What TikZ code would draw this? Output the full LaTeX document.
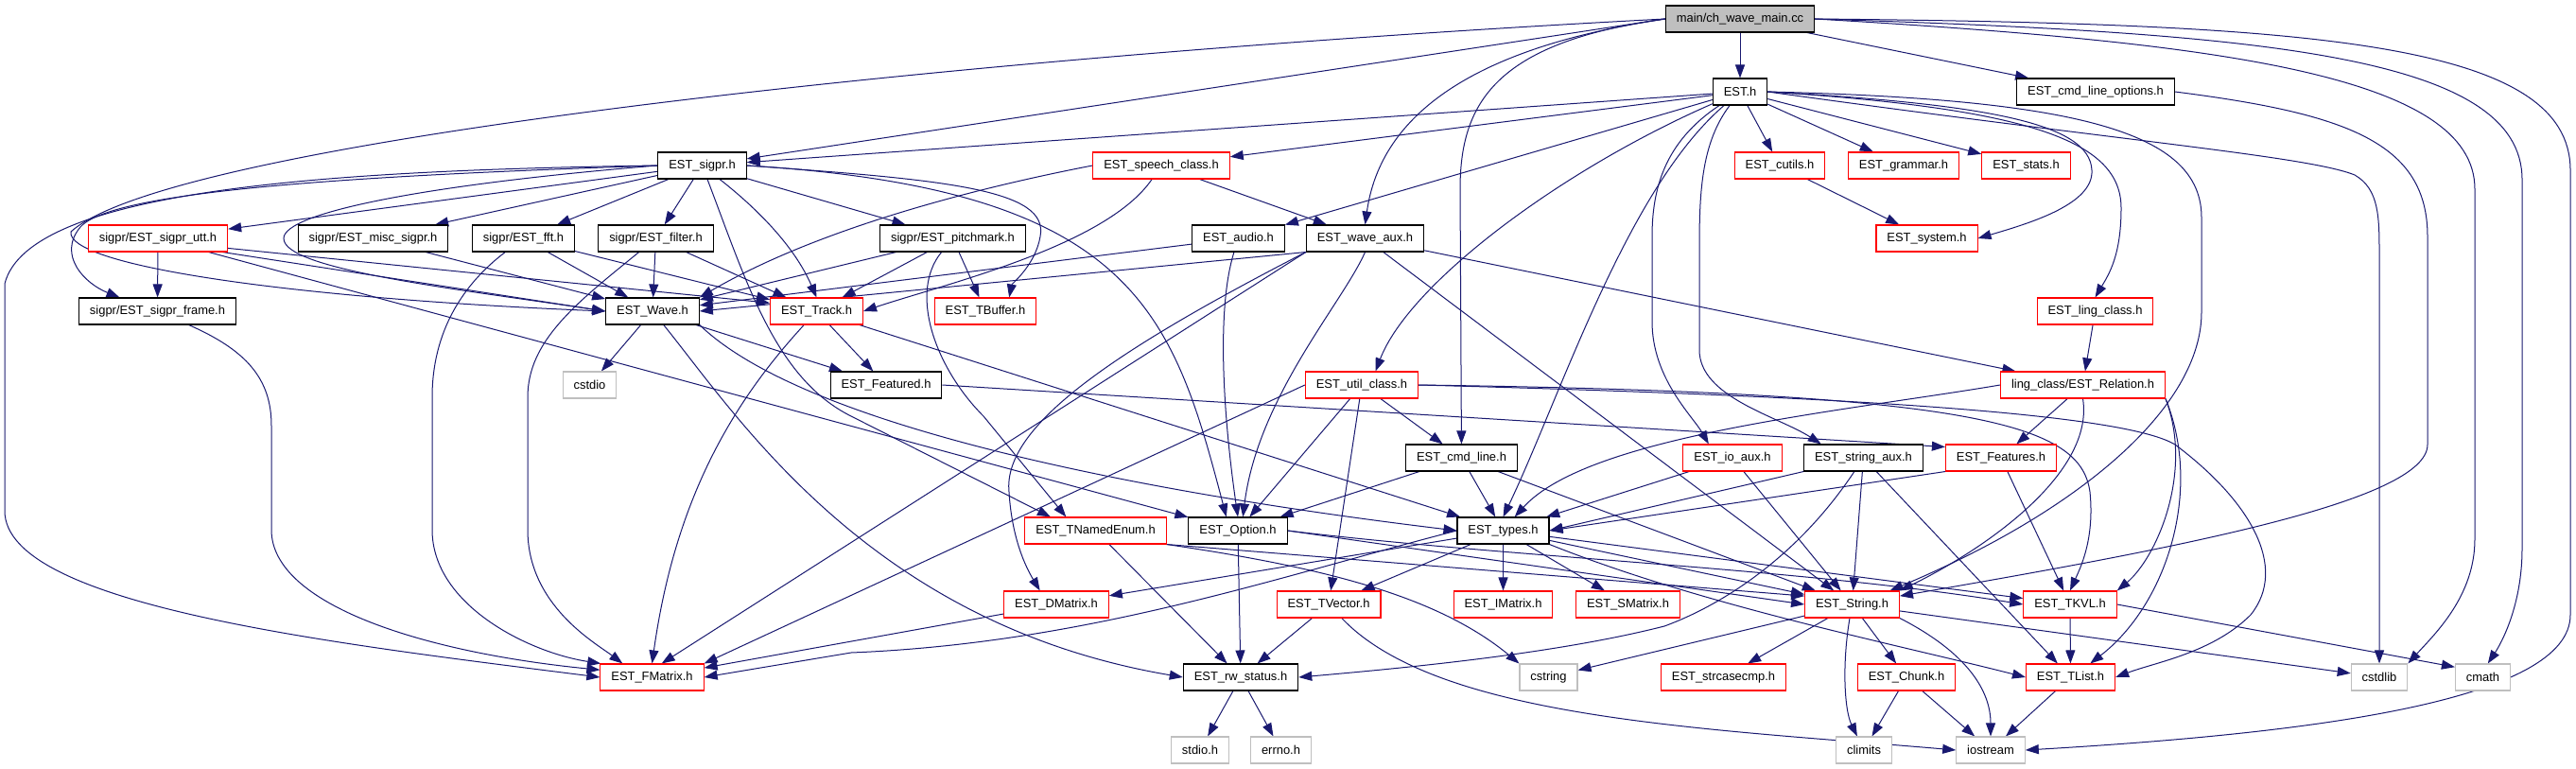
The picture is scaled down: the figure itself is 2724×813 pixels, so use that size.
\documentclass[tikz,border=0pt]{standalone}
\usepackage{fontspec}
\setmainfont{Liberation Sans}
\usetikzlibrary{arrows.meta}
\definecolor{depblue}{HTML}{191970}
\definecolor{hdrred}{HTML}{FF0000}
\definecolor{sysgray}{HTML}{BFBFBF}
\definecolor{rootfill}{HTML}{BFBFBF}
\pgfdeclarelayer{bg}
\pgfsetlayers{bg,main}

\begin{document}
\begin{tikzpicture}[
  x=0.75pt, y=-0.75pt,
  hdr/.style={draw=black, fill=white, line width=0.8pt, inner xsep=8.6pt,
              inner ysep=0pt, minimum height=21pt,
              font=\fontsize{9.7pt}{11pt}\selectfont},
  redhdr/.style={hdr, draw=hdrred},
  syshdr/.style={hdr, draw=sysgray},
  roothdr/.style={hdr, fill=rootfill},
  dep/.style={-{Triangle[length=10.5pt,width=7.5pt]}, draw=depblue, line width=0.75pt},
]
\useasboundingbox (0,0) rectangle (2724,813);

% --- rows 0-2 ---
\node[roothdr] (root)    at (1840,20)    {main/ch\_wave\_main.cc};
\node[hdr]     (est)     at (1840,97)    {EST.h};
\node[hdr]     (cmdopts) at (2216,97)    {EST\_cmd\_line\_options.h};
\node[hdr]     (sigpr)   at (742.5,175)  {EST\_sigpr.h};
\node[redhdr]  (speech)  at (1228,175)   {EST\_speech\_class.h};
\node[redhdr]  (cutils)  at (1882,175)   {EST\_cutils.h};
\node[redhdr]  (grammar) at (2013,175)   {EST\_grammar.h};
\node[redhdr]  (stats)   at (2142.5,175) {EST\_stats.h};
% --- row 3 ---
\node[redhdr]  (utt)     at (167,252)    {sigpr/EST\_sigpr\_utt.h};
\node[hdr]     (misc)    at (394.5,252)  {sigpr/EST\_misc\_sigpr.h};
\node[hdr]     (fft)     at (553.5,252)  {sigpr/EST\_fft.h};
\node[hdr]     (filter)  at (693.5,252)  {sigpr/EST\_filter.h};
\node[hdr]     (pitch)   at (1007.5,252) {sigpr/EST\_pitchmark.h};
\node[hdr]     (audio)   at (1309.5,252) {EST\_audio.h};
\node[hdr]     (waveaux) at (1443.5,252) {EST\_wave\_aux.h};
\node[redhdr]  (system)  at (2037.5,252) {EST\_system.h};
% --- row 4 ---
\node[hdr]     (frame)   at (166.5,329)  {sigpr/EST\_sigpr\_frame.h};
\node[hdr]     (wave)    at (690,329)    {EST\_Wave.h};
\node[redhdr]  (track)   at (863.5,329)  {EST\_Track.h};
\node[redhdr]  (tbuffer) at (1042,329)   {EST\_TBuffer.h};
\node[redhdr]  (lingcls) at (2215.5,329) {EST\_ling\_class.h};
% --- row 5 ---
\node[syshdr]  (cstdio)   at (623.5,407)  {cstdio};
\node[hdr]     (featured) at (937,407)    {EST\_Featured.h};
\node[redhdr]  (utilcls)  at (1440,407)   {EST\_util\_class.h};
\node[redhdr]  (relation) at (2202.5,407) {ling\_class/EST\_Relation.h};
% --- row 6 ---
\node[hdr]     (cmdline)  at (1545.5,484) {EST\_cmd\_line.h};
\node[redhdr]  (ioaux)    at (1832,484)   {EST\_io\_aux.h};
\node[hdr]     (straux)   at (1970.5,484) {EST\_string\_aux.h};
\node[redhdr]  (features) at (2116,484)   {EST\_Features.h};
% --- row 7 ---
\node[redhdr]  (tnamed)   at (1158.5,561) {EST\_TNamedEnum.h};
\node[hdr]     (option)   at (1309,561)   {EST\_Option.h};
\node[hdr]     (types)    at (1589.5,561) {EST\_types.h};
% --- row 8 ---
\node[redhdr]  (dmatrix)  at (1117,639)   {EST\_DMatrix.h};
\node[redhdr]  (tvector)  at (1405,639)   {EST\_TVector.h};
\node[redhdr]  (imatrix)  at (1589.5,639) {EST\_IMatrix.h};
\node[redhdr]  (smatrix)  at (1721.5,639) {EST\_SMatrix.h};
\node[redhdr]  (string)   at (1958.5,639) {EST\_String.h};
\node[redhdr]  (tkvl)     at (2189,639)   {EST\_TKVL.h};
% --- row 9 ---
\node[redhdr]  (fmatrix)  at (689.5,716)  {EST\_FMatrix.h};
\node[hdr]     (rwstatus) at (1312,716)   {EST\_rw\_status.h};
\node[syshdr]  (cstring)  at (1637.5,716) {cstring};
\node[redhdr]  (strcase)  at (1822.5,716) {EST\_strcasecmp.h};
\node[redhdr]  (chunk)    at (2016,716)   {EST\_Chunk.h};
\node[redhdr]  (tlist)    at (2189.5,716) {EST\_TList.h};
\node[syshdr]  (cstdlib)  at (2516,716)   {cstdlib};
\node[syshdr]  (cmath)    at (2625.5,716) {cmath};
% --- row 10 ---
\node[syshdr]  (stdioh)   at (1269,793)   {stdio.h};
\node[syshdr]  (errnoh)   at (1354.5,793) {errno.h};
\node[syshdr]  (climits)  at (1971,793)   {climits};
\node[syshdr]  (iostream) at (2105,793)   {iostream};

\begin{pgfonlayer}{bg}
\fill[white] (0,0) rectangle (2724,813);

% --- main/ch_wave_main.cc ---
\draw[dep] (root) -- (est);
\draw[dep] (root) -- (cmdopts);
\draw[dep] (root.west) -- (sigpr);
\draw[dep] (root.west) .. controls (1000,60) and (180,150) .. (75,245)
                       .. controls (70,280) and (300,315) .. (wave.west);
\draw[dep] (root.west) .. controls (1560,50) and (1460,120) .. (waveaux.north);
\draw[dep] (root.west) .. controls (1580,45) and (1544,110) .. (1544,200) -- (cmdline);
\draw[dep] (root.east) .. controls (2350,45) and (2617,80) .. (2617,200) -- (2617,570)
                       .. controls (2617,630) and (2575,670) .. (cstdlib.north east);
\draw[dep] (root.east) .. controls (2400,35) and (2667,60) .. (2667,190) -- (2667,580)
                       .. controls (2667,640) and (2645,680) .. (cmath.70);
\draw[dep] (root.east) .. controls (2450,25) and (2718,45) .. (2718,180) -- (2718,650)
                       .. controls (2718,740) and (2450,775) .. (iostream.east);

% --- EST.h ---
\draw[dep] (est) -- (sigpr);
\draw[dep] (est) -- (speech);
\draw[dep] (est) -- (audio);
\draw[dep] (est) .. controls (1650,180) and (1490,300) .. (utilcls.45);
\draw[dep] (est) .. controls (1720,200) and (1650,420) .. (types.north);
\draw[dep] (est) .. controls (1760,150) and (1747,200) .. (1747,250) -- (1747,340)
                 .. controls (1747,400) and (1790,440) .. (ioaux.150);
\draw[dep] (est) .. controls (1800,150) and (1797,200) .. (1797,260) -- (1797,370)
                 .. controls (1797,420) and (1880,440) .. (straux.162);
\draw[dep] (est) -- (cutils);
\draw[dep] (est) -- (grammar);
\draw[dep] (est) -- (stats);
\draw[dep] (est.east) .. controls (2100,110) and (2210,130) .. (2212,180)
                      .. controls (2214,215) and (2150,235) .. (system.east);
\draw[dep] (est.east) .. controls (2150,115) and (2243,150) .. (2243,220)
                      .. controls (2243,270) and (2230,290) .. (lingcls.north);
\draw[dep] (est.east) .. controls (2200,105) and (2328,140) .. (2328,230) -- (2328,330)
                      .. controls (2328,430) and (2200,540) .. (string.20);
\draw[dep] (est.east) .. controls (2250,150) and (2440,165) .. (2490,185)
                      .. controls (2516,200) and (2516,230) .. (2516,270) -- (cstdlib);

% --- EST_cmd_line_options.h ---
\draw[dep] (cmdopts.east) .. controls (2480,120) and (2567,150) .. (2567,250) -- (2567,470)
                          .. controls (2567,530) and (2300,580) .. (string.10);

% --- EST_sigpr.h ---
\draw[dep] (sigpr) -- (utt);
\draw[dep] (sigpr) -- (misc);
\draw[dep] (sigpr) -- (fft);
\draw[dep] (sigpr) -- (filter);
\draw[dep] (sigpr) -- (pitch);
\draw[dep] (sigpr.west) .. controls (400,185) and (120,200) .. (85,240)
                        .. controls (60,270) and (90,300) .. (frame.160);
\draw[dep] (sigpr.west) .. controls (350,180) and (30,200) .. (5,300) -- (5,540)
                        .. controls (5,640) and (350,680) .. (fmatrix.180);
\draw[dep] (sigpr.west) .. controls (450,195) and (300,225) .. (300,252)
                        .. controls (300,285) and (480,305) .. (wave.west);
\draw[dep] (sigpr) .. controls (800,220) and (840,260) .. (track.north);
\draw[dep] (sigpr) .. controls (790,300) and (820,400) .. (900,440) -- (tnamed.163);
\draw[dep] (sigpr.east) .. controls (1000,190) and (1110,200) .. (1100,250)
                        .. controls (1095,280) and (1070,300) .. (tbuffer.30);
\draw[dep] (sigpr.east) .. controls (1200,200) and (1240,330) .. (option.130);

% --- EST_speech_class.h ---
\draw[dep] (speech.west) .. controls (1000,205) and (850,250) .. (wave.north east);
\draw[dep] (speech) .. controls (1170,260) and (1000,300) .. (track.east);
\draw[dep] (speech) -- (waveaux);

% --- sigpr/* ---
\draw[dep] (utt) -- (frame);
\draw[dep] (utt.-12) -- (wave.west);
\draw[dep] (utt.-8) -- (track.170);
\draw[dep] (utt) -- (option);
\draw[dep] (frame) .. controls (260,370) and (287,400) .. (287,450) -- (287,560)
                   .. controls (287,640) and (450,690) .. (fmatrix.172);
\draw[dep] (misc) -- (wave);
\draw[dep] (fft) -- (wave);
\draw[dep] (fft) -- (track);
\draw[dep] (fft) .. controls (490,300) and (457,350) .. (457,420) -- (457,560)
                 .. controls (457,640) and (560,690) .. (fmatrix.165);
\draw[dep] (filter) -- (wave);
\draw[dep] (filter) -- (track);
\draw[dep] (filter) .. controls (610,320) and (558,360) .. (558,420) -- (558,560)
                    .. controls (558,640) and (630,680) .. (fmatrix.155);
\draw[dep] (pitch) -- (wave);
\draw[dep] (pitch) -- (track);
\draw[dep] (pitch) -- (tbuffer);
\draw[dep] (pitch) .. controls (960,310) and (990,390) .. (1040,440) -- (tnamed.155);

% --- EST_audio.h, EST_wave_aux.h ---
\draw[dep] (audio) -- (wave);
\draw[dep] (audio) .. controls (1285,330) and (1295,450) .. (option.north);
\draw[dep] (waveaux.south west) -- (wave.east);
\draw[dep] (waveaux.south west) -- (fmatrix.55);
\draw[dep] (waveaux.south west) .. controls (1180,370) and (1060,450) .. (1067,520)
                                .. controls (1070,570) and (1085,600) .. (dmatrix.140);
\draw[dep] (waveaux.south) .. controls (1420,320) and (1330,420) .. (option.70);
\draw[dep] (waveaux) -- (string);
\draw[dep] (waveaux) -- (relation);

% --- EST_cutils.h, EST_ling_class.h ---
\draw[dep] (cutils) -- (system);
\draw[dep] (lingcls) -- (relation);

% --- EST_Wave.h, EST_Track.h, EST_Featured.h ---
\draw[dep] (wave) -- (cstdio);
\draw[dep] (wave) -- (featured);
\draw[dep] (wave) .. controls (780,440) and (920,660) .. (rwstatus.west);
\draw[dep] (wave.south east) .. controls (850,450) and (1200,520) .. (types.west);
\draw[dep] (track) -- (featured);
\draw[dep] (track) .. controls (780,420) and (715,520) .. (fmatrix.north);
\draw[dep] (track) -- (types);
\draw[dep] (featured.east) -- (features.169);

% --- ling_class/EST_Relation.h ---
\draw[dep] (relation) -- (features);
\draw[dep] (relation.south) .. controls (2215,500) and (2100,580) .. (string.north east);
\draw[dep] (relation.south east) .. controls (2320,500) and (2280,590) .. (tkvl.north east);
\draw[dep] (relation.south east) .. controls (2330,520) and (2290,640) .. (tlist.35);
\draw[dep] (relation.west) .. controls (1950,435) and (1680,460) .. (types.50);

% --- EST_util_class.h ---
\draw[dep] (utilcls) -- (cmdline);
\draw[dep] (utilcls) -- (option);
\draw[dep] (utilcls) -- (tvector);
\draw[dep] (utilcls.west) -- (fmatrix.north east);
\draw[dep] (utilcls.east) .. controls (2100,415) and (2200,450) .. (2210,520)
                          .. controls (2215,570) and (2200,600) .. (tkvl.north);
\draw[dep] (utilcls.east) .. controls (2000,420) and (2250,440) .. (2300,470)
                          .. controls (2380,530) and (2420,600) .. (2380,650)
                          .. controls (2340,690) and (2280,700) .. (tlist.east);

% --- row 6 ---
\draw[dep] (cmdline) -- (option);
\draw[dep] (cmdline) -- (types);
\draw[dep] (cmdline) -- (string);
\draw[dep] (ioaux) -- (types);
\draw[dep] (ioaux) -- (string);
\draw[dep] (straux.south west) -- (types.east);
\draw[dep] (straux) -- (string);
\draw[dep] (straux) -- (tlist);
\draw[dep] (straux) .. controls (1900,590) and (1820,640) .. (1760,662)
                    .. controls (1650,690) and (1500,705) .. (rwstatus.east);
\draw[dep] (features.south west) -- (types.east);
\draw[dep] (features) -- (tkvl);

% --- row 7 ---
\draw[dep] (tnamed) -- (rwstatus);
\draw[dep] (tnamed.south east) -- (string.170);
\draw[dep] (tnamed.south east) .. controls (1400,600) and (1520,630) .. (cstring.north west);
\draw[dep] (option) -- (rwstatus);
\draw[dep] (option.east) -- (string.west);
\draw[dep] (option.east) .. controls (1600,590) and (1900,600) .. (tkvl.west);
\draw[dep] (types) -- (dmatrix);
\draw[dep] (types) -- (tvector);
\draw[dep] (types) -- (imatrix);
\draw[dep] (types) -- (smatrix);
\draw[dep] (types) -- (string);
\draw[dep] (types) -- (tkvl);
\draw[dep] (types.south east) .. controls (1800,640) and (2000,680) .. (tlist.west);
\draw[dep] (types.west) .. controls (1350,610) and (1150,680) .. (900,690) -- (fmatrix.east);

% --- row 8 ---
\draw[dep] (dmatrix) -- (fmatrix);
\draw[dep] (tvector) -- (rwstatus);
\draw[dep] (tvector) .. controls (1520,760) and (1800,770) .. (iostream.west);
\draw[dep] (string) -- (strcase);
\draw[dep] (string) -- (chunk);
\draw[dep] (string) -- (cstring);
\draw[dep] (string) .. controls (1948,700) and (1950,750) .. (climits);
\draw[dep] (string.south east) .. controls (2080,690) and (2105,730) .. (iostream.north);
\draw[dep] (string) -- (cstdlib);
\draw[dep] (tkvl) -- (tlist);
\draw[dep] (tkvl.east) -- (cmath.160);

% --- row 9 ---
\draw[dep] (rwstatus) -- (stdioh);
\draw[dep] (rwstatus) -- (errnoh);
\draw[dep] (chunk) -- (climits);
\draw[dep] (chunk) -- (iostream);
\draw[dep] (tlist) -- (iostream);
\end{pgfonlayer}
\end{tikzpicture}
\end{document}
